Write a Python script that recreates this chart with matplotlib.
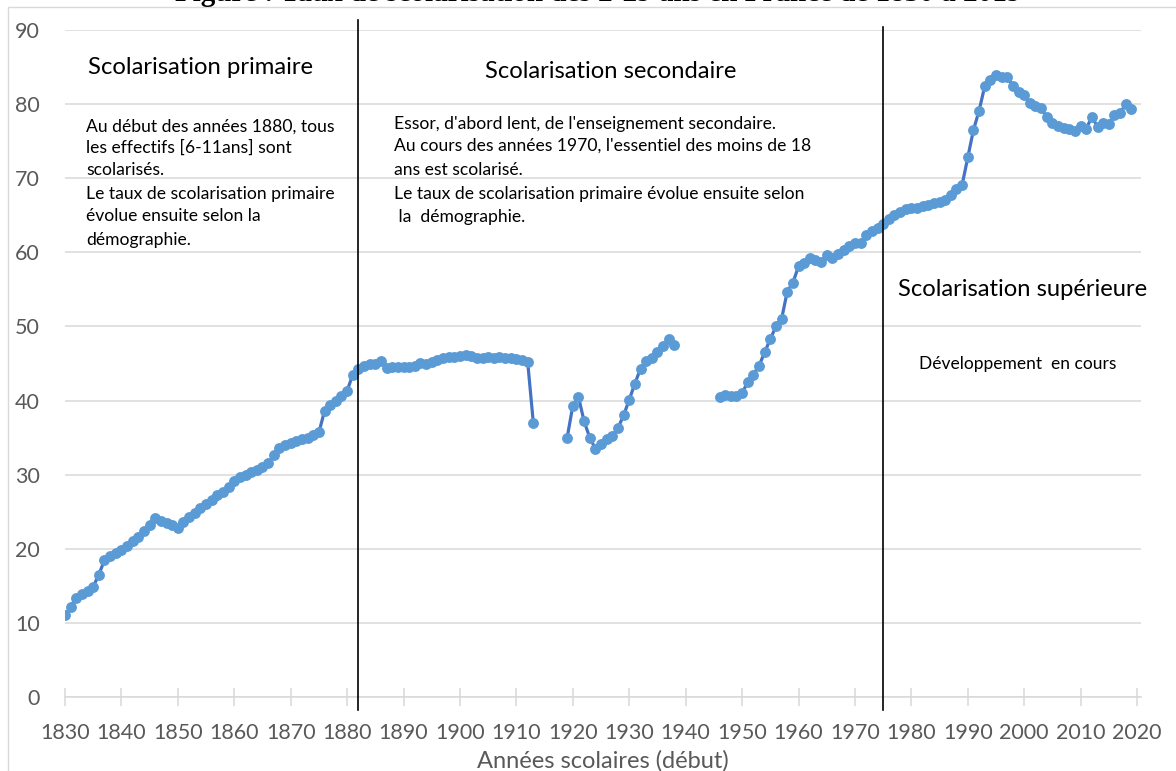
import matplotlib
matplotlib.use("Agg")
import matplotlib.pyplot as plt
import matplotlib.patches as mpatches
import numpy as np

# ---------------- data ----------------
years_a = list(range(1830, 1914))
values_a = [11.0, 12.2, 13.4, 13.9, 14.3, 14.9, 16.5, 18.5, 19.0, 19.4,
            19.8, 20.4, 21.0, 21.6, 22.4, 23.2, 24.1, 23.8, 23.5, 23.2,
            22.8, 23.6, 24.3, 24.8, 25.5, 26.0, 26.6, 27.2, 27.6, 28.3,
            29.2, 29.7, 30.0, 30.3, 30.6, 31.1, 31.6, 32.6, 33.6, 34.0,
            34.3, 34.6, 34.8, 35.0, 35.3, 35.7, 38.6, 39.4, 40.0, 40.6,
            41.3, 43.5, 44.3, 44.6, 45.0, 44.9, 45.3, 44.4, 44.5, 44.5,
            44.5, 44.5, 44.6, 45.1, 44.9, 45.2, 45.5, 45.8, 45.9, 45.9,
            46.0, 46.2, 46.0, 45.8, 45.8, 45.9, 45.8, 45.9, 45.8, 45.7,
            45.6, 45.5, 45.2, 37.0]
years_b = list(range(1919, 1939))
values_b = [35.0, 39.3, 40.5, 37.2, 35.0, 33.5, 34.2, 34.8, 35.2, 36.3,
            38.0, 40.1, 42.3, 44.3, 45.3, 45.8, 46.6, 47.3, 48.3, 47.5]
years_c = list(range(1946, 2020))
values_c = [40.5, 40.7, 40.6, 40.6, 41.0, 42.5, 43.5, 44.7, 46.5, 48.3,
            50.0, 51.0, 54.7, 55.9, 58.1, 58.6, 59.2, 58.9, 58.7, 59.7,
            59.3, 59.8, 60.3, 60.8, 61.2, 61.3, 62.3, 62.9, 63.3, 63.8,
            64.5, 65.1, 65.5, 65.9, 66.0, 66.0, 66.2, 66.4, 66.6, 66.8,
            67.1, 67.8, 68.5, 69.1, 72.8, 76.5, 79.1, 82.4, 83.3, 83.9,
            83.7, 83.6, 82.5, 81.6, 81.2, 80.1, 79.8, 79.5, 78.2, 77.5,
            77.1, 76.8, 76.7, 76.4, 77.0, 76.7, 78.3, 76.9, 77.5, 77.3,
            78.5, 78.8, 80.0, 79.4]

xticks = list(range(1830, 2021, 10))
yticks = list(range(0, 91, 10))
period_bounds = [1882, 1975]

# ---------------- figure ----------------
W, H = 1176, 771
fig = plt.figure(figsize=(W / 100, H / 100), dpi=100)

def fx(px):
    return px / W

def fy(py):
    return 1 - py / H

ax = fig.add_axes([fx(65), fy(697), fx(1141) - fx(65), fy(30) - fy(697)])

LINE = "#4472C4"
MARK = "#5B9BD5"
GRID = "#D9D9D9"
TXT = "#595959"
FONT = "Lato"

for xs, ys in [(years_a, values_a), (years_b, values_b), (years_c, values_c)]:
    ax.plot(xs, ys, color=LINE, lw=2.3, marker="o", ms=6.8,
            mfc=MARK, mec=MARK, zorder=3)

ax.set_xlim(1830, 2020.7)
ax.set_ylim(0, 90)
ax.set_xticks(xticks)
ax.set_yticks(yticks)
ax.grid(axis="y", color=GRID, lw=1.1)
ax.set_axisbelow(True)
for s in ["top", "right", "left"]:
    ax.spines[s].set_visible(False)
ax.spines["bottom"].set_color(GRID)
ax.spines["bottom"].set_linewidth(1.1)
ax.tick_params(axis="x", direction="inout", length=13, color=GRID, width=1.1,
               labelsize=15.5, labelcolor=TXT, pad=12)
ax.tick_params(axis="y", length=0, labelsize=15.5, labelcolor=TXT, pad=18)
for lab in ax.get_xticklabels() + ax.get_yticklabels():
    lab.set_fontfamily(FONT)
ax.set_xlabel("Années scolaires (début)", fontsize=17, color=TXT,
              fontfamily=FONT, labelpad=5)

# period separators
ax.axvline(period_bounds[0], ymin=-0.019, ymax=1.015, color="black", lw=1.2,
           clip_on=False, zorder=4)
ax.axvline(period_bounds[1], ymin=-0.019, ymax=1.005, color="black", lw=1.2,
           clip_on=False, zorder=4)

# chart frame
fig.patches.append(mpatches.Rectangle((fx(8), -0.01), 1.0, fy(7) + 0.01,
                                      transform=fig.transFigure, fill=False,
                                      edgecolor=GRID, lw=1.0))

# title, cut off at the very top as in the reference
fig.text(fx(598), fy(1.2), "Figure : Taux de scolarisation des 2-29 ans en France de 1830 à 2019",
         ha="center", va="baseline", fontsize=21, fontweight="bold",
         fontfamily="Liberation Serif", color="black")

# annotations
def t(x, y, s, size, ha="left"):
    fig.text(fx(x), fy(y), s, ha=ha, va="center", fontsize=size,
             fontfamily=FONT, color="black")

t(88, 67, "Scolarisation primaire", 17.2)
prim = [("Au début des années 1880, tous", 127),
        ("les effectifs [6-11ans] sont", 148),
        ("scolarisés.", 170),
        ("Le taux de scolarisation primaire", 194),
        ("évolue ensuite selon la", 216),
        ("démographie.", 240)]
for s, y in prim:
    t(86, y, s, 12.6)

t(611, 72, "Scolarisation secondaire", 17.1, ha="center")
sec = [("Essor, d'abord lent, de l'enseignement secondaire.", 124),
       ("Au cours des années 1970, l'essentiel des moins de 18", 146),
       ("ans est scolarisé.", 170),
       ("Le taux de scolarisation primaire évolue ensuite selon", 194),
       (" la  démographie.", 217)]
for s, y in sec:
    t(394, y, s, 12.6)

t(898, 289, "Scolarisation supérieure", 17.1)
t(919, 364, "Développement  en cours", 12.5)

fig.savefig("out.png", dpi=100)
